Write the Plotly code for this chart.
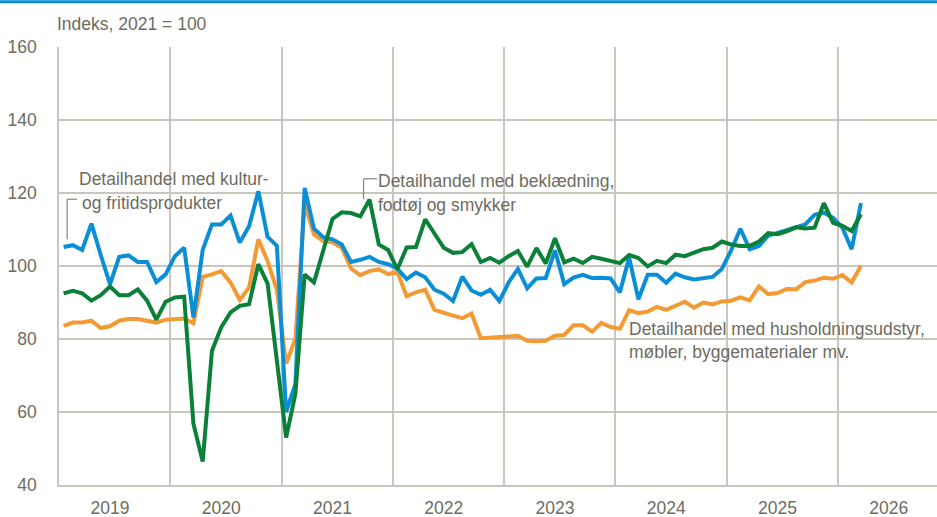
import plotly.graph_objects as go

# ---- data (monthly, Jan 2019 - Mar 2026) ----
years = ["2019", "2020", "2021", "2022", "2023", "2024", "2025", "2026"]

kultur = [105.2, 105.7, 104.4, 111.6, 103.0, 95.0, 102.5, 102.9, 101.1, 101.1, 95.6, 97.7,
          102.7, 105.0, 85.9, 104.4, 111.4, 111.4, 113.8, 106.4, 110.9, 120.5, 108.0, 105.5,
          60.0, 67.7, 121.4, 110.2, 107.9, 107.3, 105.9, 101.1, 101.7, 102.5, 101.1, 100.5,
          99.3, 96.4, 98.2, 96.9, 93.5, 92.4, 90.4, 97.1, 93.3, 92.1, 93.5, 90.4,
          95.5, 99.2, 93.9, 96.6, 96.7, 104.3, 95.0, 96.8, 97.6, 96.7, 96.8, 96.6,
          92.8, 102.3, 90.9, 97.6, 97.6, 95.4, 97.9, 96.9, 96.3, 96.6, 97.0, 99.2,
          104.3, 110.2, 104.6, 105.5, 108.3, 109.1, 109.8, 110.7, 111.4, 114.0, 114.6, 113.2,
          110.5, 104.6, 117.2]

beklaedning = [92.5, 93.2, 92.5, 90.5, 92.0, 94.4, 92.0, 92.0, 93.6, 90.5, 85.3, 90.2,
               91.4, 91.6, 56.8, 46.4, 76.8, 83.2, 87.3, 89.1, 89.5, 100.5, 95.2, 75.0,
               53.0, 65.0, 97.7, 95.5, 104.5, 112.9, 114.7, 114.5, 113.6, 118.2, 105.9, 104.4,
               99.1, 105.1, 105.2, 112.8, 108.9, 105.0, 103.6, 103.8, 106.0, 101.1, 102.2, 100.9,
               102.7, 104.1, 99.8, 104.9, 100.7, 107.6, 101.0, 102.0, 100.8, 102.5, 102.0, 101.5,
               100.8, 103.0, 102.2, 99.9, 101.4, 100.8, 103.1, 102.7, 103.7, 104.6, 105.0, 106.7,
               105.9, 105.5, 105.5, 106.7, 109.0, 108.7, 109.5, 110.6, 110.3, 110.5, 117.2, 111.8,
               111.0, 109.6, 114.2]

husholdning = [83.6, 84.5, 84.5, 85.0, 83.0, 83.5, 85.0, 85.5, 85.5, 85.0, 84.5, 85.3,
               85.5, 85.6, 84.3, 97.0, 97.7, 98.6, 95.5, 90.7, 94.1, 107.3, 101.4, 93.4,
               73.3, 80.0, 117.0, 108.6, 106.8, 106.5, 105.0, 99.3, 97.5, 98.6, 99.1, 97.8,
               98.4, 91.7, 92.8, 93.5, 88.0, 87.1, 86.4, 85.7, 87.0, 80.2, 80.3, 80.5,
               80.7, 80.9, 79.5, 79.4, 79.5, 80.9, 81.1, 83.8, 83.8, 82.0, 84.4, 83.3,
               82.8, 87.9, 87.1, 87.5, 88.8, 88.0, 89.1, 90.2, 88.6, 90.0, 89.5, 90.3,
               90.5, 91.4, 90.6, 94.4, 92.3, 92.6, 93.7, 93.6, 95.6, 96.0, 96.8, 96.5,
               97.5, 95.5, 100.0]

months = list(range(len(kultur)))  # month index, 0 = Jan 2019

BLUE = "#0a8fd6"
ORANGE = "#f39a34"
GREEN = "#0a8038"
TXT = "#6e6c60"
GRID = "#c9c7bd"
FONT = "Liberation Sans, Arial, sans-serif"
FS = 17.5

fig = go.Figure()
fig.add_trace(go.Scatter(x=months, y=husholdning, mode="lines",
                         line=dict(color=ORANGE, width=4), showlegend=False))
fig.add_trace(go.Scatter(x=months, y=kultur, mode="lines",
                         line=dict(color=BLUE, width=4), showlegend=False))
fig.add_trace(go.Scatter(x=months, y=beklaedning, mode="lines",
                         line=dict(color=GREEN, width=4), showlegend=False))

month_w = 111.3 / 12
plot_w = 937 - 58.6
xmax = -0.5 + plot_w / month_w

fig.update_layout(
    width=937, height=517,
    margin=dict(l=58.6, r=0, t=46.7, b=32),
    paper_bgcolor="white", plot_bgcolor="white",
    font=dict(family=FONT, size=FS, color=TXT),
    xaxis=dict(range=[-0.5, xmax], showgrid=False, zeroline=False, automargin=False,
               tickmode="array", tickvals=[12 * k + 5 for k in range(len(years))],
               ticktext=years, ticks="", showline=True, linecolor=GRID, linewidth=1.5,
               ticklabelstandoff=6,
               minor=dict(tickmode="array",
                          tickvals=[12 * k - 0.5 for k in range(len(years))],
                          showgrid=True, gridcolor=GRID, gridwidth=1.5, ticks="")),
    yaxis=dict(range=[40, 160], tickvals=[40, 60, 80, 100, 120, 140, 160],
               showgrid=True, gridcolor=GRID, gridwidth=1.5, zeroline=False,
               automargin=False,
               showline=True, linecolor=GRID, linewidth=1.5, ticks="",
               ticklabelstandoff=17),
)

# reference line at 100
fig.add_shape(type="line", xref="paper", yref="y", x0=0, x1=1, y0=100, y1=100,
              line=dict(color="#858275", width=2), layer="below")

# top blue rule
fig.add_shape(type="line", xref="paper", yref="paper", x0=-0.07, x1=1.0,
              y0=(485 - 1.5) / 438.3, y1=(485 - 1.5) / 438.3,
              line=dict(color=BLUE, width=3))

def px(xp):
    return (xp - 58.6) / plot_w

def py(yp):
    return (485 - yp) / 438.3

def label(text, xp, yp):
    fig.add_annotation(text=text, xref="paper", yref="paper", x=px(xp), y=py(yp),
                       xanchor="left", yanchor="middle", showarrow=False,
                       font=dict(family=FONT, size=FS, color=TXT))

label("Indeks, 2021 = 100", 55, 23.5)
label("Detailhandel med kultur-", 77, 179)
label("og fritidsprodukter", 80, 203)
label("Detailhandel med beklædning,", 376, 181)
label("fodtøj og smykker", 376, 205)
label("Detailhandel med husholdningsudstyr,", 627, 329)
label("møbler, byggematerialer mv.", 627, 352)

# leader lines
def seg(x0, y0, x1, y1):
    fig.add_shape(type="line", xref="paper", yref="paper",
                  x0=px(x0), y0=py(y0), x1=px(x1), y1=py(y1),
                  line=dict(color="#8f8d82", width=1.3))

seg(66.7, 199, 76.7, 199)
seg(66.7, 199, 66.7, 239)
seg(363.3, 178.5, 377, 178.5)
seg(363.3, 178.5, 363.3, 199)

fig.write_html("out.html", config={"displayModeBar": False},
               post_script="document.body.style.margin='0';document.body.style.padding='0';")
